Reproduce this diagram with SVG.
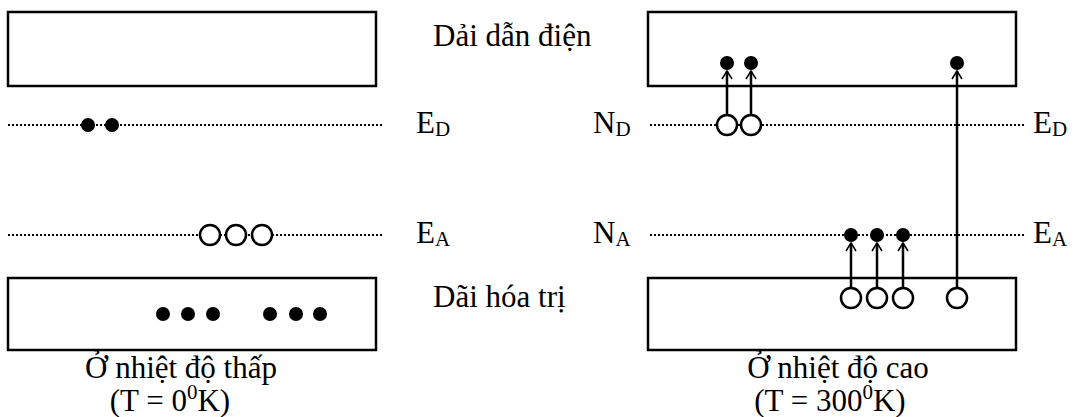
<svg xmlns="http://www.w3.org/2000/svg" width="1080" height="417" viewBox="0 0 1080 417">
<defs>
<style>
.band{fill:none;stroke:#000;stroke-width:2.5}
.lvl{stroke:#000;stroke-width:2;stroke-dasharray:2 2;fill:none}
.e{fill:#000}
.h{fill:#fff;stroke:#000;stroke-width:2.5}
.ar{stroke:#000;stroke-width:2.5;fill:none;marker-end:url(#ah)}
.sub{font-size:21px}
</style>
<marker id="ah" viewBox="0 0 12 12" refX="10" refY="6" markerWidth="12" markerHeight="12" markerUnits="userSpaceOnUse" orient="auto">
<path d="M2,1 L10,6 L2,11" fill="none" stroke="#000" stroke-width="1.5"/>
</marker>
</defs>
<rect width="1080" height="417" fill="#fff"/>
<g font-family="'Liberation Serif', 'Times New Roman', serif" font-size="31" fill="#000">
<g id="left">
<g id="left-conduction"><rect class="band" x="8" y="12" width="368" height="74"/></g>
<g id="left-ED"><line class="lvl" x1="8" y1="125" x2="383" y2="125"/>
<circle class="e" cx="88" cy="125" r="7"/><circle class="e" cx="112" cy="125" r="7"/></g>
<g id="left-EA"><line class="lvl" x1="8" y1="235" x2="383" y2="235"/>
<circle class="h" cx="210" cy="235" r="10"/><circle class="h" cx="236" cy="235" r="10"/><circle class="h" cx="262" cy="235" r="10"/></g>
<g id="left-valence"><rect class="band" x="8" y="278" width="368" height="72"/>
<circle class="e" cx="163" cy="314" r="7"/><circle class="e" cx="188" cy="314" r="7"/><circle class="e" cx="213" cy="314" r="7"/>
<circle class="e" cx="270" cy="314" r="7"/><circle class="e" cx="296" cy="314" r="7"/><circle class="e" cx="320" cy="314" r="7"/></g>
<g id="left-caption"><text x="181" y="378" text-anchor="middle">Ở nhiệt độ thấp</text>
<text x="170" y="411" text-anchor="middle">(T = 0<tspan class="sub" dy="-12">0</tspan><tspan dy="12">K)</tspan></text></g>
</g>
<g id="labels">
<text x="433" y="46">Dải dẫn điện</text>
<text x="416" y="133">E<tspan class="sub" dy="3">D</tspan></text>
<text x="416" y="243">E<tspan class="sub" dy="3">A</tspan></text>
<text x="433" y="307">Dãi hóa trị</text>
<text x="593" y="133">N<tspan class="sub" dy="3">D</tspan></text>
<text x="593" y="243">N<tspan class="sub" dy="3">A</tspan></text>
<text x="1033" y="133">E<tspan class="sub" dy="3">D</tspan></text>
<text x="1033" y="243">E<tspan class="sub" dy="3">A</tspan></text>
</g>
<g id="right">
<g id="right-conduction"><rect class="band" x="648" y="12" width="368" height="74"/>
<circle class="e" cx="727" cy="63" r="7"/><circle class="e" cx="751" cy="63" r="7"/><circle class="e" cx="957" cy="63" r="7"/></g>
<g id="right-ED"><line class="lvl" x1="650" y1="125" x2="1025" y2="125"/>
<circle class="h" cx="727" cy="125" r="10"/><circle class="h" cx="751" cy="125" r="10"/></g>
<g id="right-EA"><line class="lvl" x1="650" y1="235" x2="1025" y2="235"/>
<circle class="e" cx="851" cy="235" r="7"/><circle class="e" cx="877" cy="235" r="7"/><circle class="e" cx="903" cy="235" r="7"/></g>
<g id="right-valence"><rect class="band" x="648" y="278" width="368" height="72"/>
<circle class="h" cx="851" cy="298" r="10"/><circle class="h" cx="877" cy="298" r="10"/><circle class="h" cx="903" cy="298" r="10"/><circle class="h" cx="957" cy="298" r="10"/></g>
<g id="right-caption"><text x="838" y="378" text-anchor="middle">Ở nhiệt độ cao</text>
<text x="830" y="411" text-anchor="middle">(T = 300<tspan class="sub" dy="-12">0</tspan><tspan dy="12">K)</tspan></text></g>
</g>
<g id="connectors">
<line class="ar" x1="727" y1="115" x2="727" y2="71"/>
<line class="ar" x1="751" y1="115" x2="751" y2="71"/>
<line class="ar" x1="957" y1="288" x2="957" y2="71"/>
<line class="ar" x1="851" y1="288" x2="851" y2="243"/>
<line class="ar" x1="877" y1="288" x2="877" y2="243"/>
<line class="ar" x1="903" y1="288" x2="903" y2="243"/>
</g>
</g>
</svg>
